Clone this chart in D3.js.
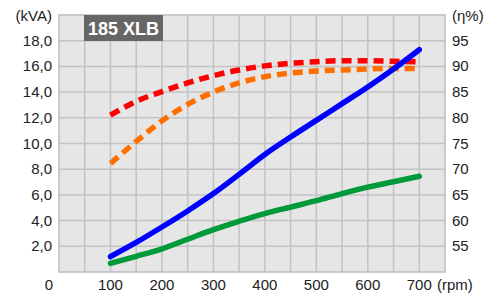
<!DOCTYPE html>
<html>
<head>
<meta charset="utf-8">
<script src="https://cdn.jsdelivr.net/npm/d3@7"></script>
<style>
  body { margin: 0; background: #fff; }
  text { font-family: "Liberation Sans", Arial, sans-serif; }
</style>
</head>
<body>
<div id="chart"></div>
<script>
// data
var rpm = [100, 150, 200, 250, 300, 350, 400, 450, 500, 550, 600, 650, 700];
var kva = [1.2, 2.3, 3.5, 4.75, 6.1, 7.6, 9.15, 10.5, 11.8, 13.1, 14.4, 15.8, 17.3];
var kw = [0.67, 1.22, 1.8, 2.55, 3.3, 3.95, 4.55, 5.05, 5.55, 6.1, 6.6, 7.02, 7.45];
var effRed = [80.5, 83.2, 85.1, 86.8, 88.2, 89.3, 90.1, 90.6, 90.9, 91.1, 91.1, 91.0, 90.9];
var effOrange = [71.1, 75.4, 79.4, 82.6, 85.0, 86.8, 88.0, 88.7, 89.1, 89.3, 89.5, 89.6, 89.6];
var xTicks = [0, 100, 200, 300, 400, 500, 600, 700];
var yLeftTicks = [2, 4, 6, 8, 10, 12, 14, 16, 18];
var yRightTicks = [55, 60, 65, 70, 75, 80, 85, 90, 95];
var title = "185 XLB";

var W = 494, H = 293;
var margin = {top: 15, right: 50, bottom: 21, left: 59},
    width = 445 - margin.left,
    height = 272 - margin.top;

var svg = d3.select("#chart")
  .append("svg")
    .attr("width", W)
    .attr("height", H);

var g = svg.append("g")
    .attr("transform", "translate(" + margin.left + "," + margin.top + ")");

var x = d3.scaleLinear().domain([0, 750]).range([0, width]);
var yL = d3.scaleLinear().domain([0, 20]).range([height, 0]);
var yR = d3.scaleLinear().domain([50, 100]).range([height, 0]);

// background
g.append("rect")
  .attr("width", width)
  .attr("height", height)
  .attr("fill", "#e6e6e6");

// grid
g.append("g")
  .selectAll("line")
  .data(d3.range(50, 750, 50))
  .enter()
  .append("line")
    .attr("x1", function(d) { return x(d); })
    .attr("x2", function(d) { return x(d); })
    .attr("y1", 0)
    .attr("y2", height)
    .attr("stroke", "#c3c3c3")
    .attr("stroke-width", 1.5);

g.append("g")
  .selectAll("line")
  .data(d3.range(2, 20, 2))
  .enter()
  .append("line")
    .attr("x1", 0)
    .attr("x2", width)
    .attr("y1", function(d) { return yL(d); })
    .attr("y2", function(d) { return yL(d); })
    .attr("stroke", "#c3c3c3")
    .attr("stroke-width", 1.5);

g.append("rect")
  .attr("width", width)
  .attr("height", height)
  .attr("fill", "none")
  .attr("stroke", "#bdbdbd")
  .attr("stroke-width", 1.5);

// title box
g.append("rect")
  .attr("x", 25)
  .attr("y", 0)
  .attr("width", 79)
  .attr("height", 26)
  .attr("fill", "#666666");
g.append("text")
  .attr("x", 64.5)
  .attr("y", 20)
  .attr("text-anchor", "middle")
  .attr("fill", "#fff")
  .style("font-size", "18px")
  .style("font-weight", "bold")
  .text(title);

// lines
function makeLine(ys, yScale) {
  return d3.line()
    .x(function(d, i) { return x(rpm[i]); })
    .y(function(d) { return yScale(d); })
    .curve(d3.curveMonotoneX)(ys);
}

var series = [
  {vals: effOrange, scale: yR, color: "#ff6f00", dash: "10,6"},
  {vals: effRed, scale: yR, color: "#ff0000", dash: "10,6"},
  {vals: kw, scale: yL, color: "#009a3a", dash: null},
  {vals: kva, scale: yL, color: "#0000ff", dash: null}
];

series.forEach(function(s) {
  g.append("path")
    .attr("d", makeLine(s.vals, s.scale))
    .attr("fill", "none")
    .attr("stroke", s.color)
    .attr("stroke-width", 5.5)
    .attr("stroke-linecap", s.dash ? "butt" : "round")
    .attr("stroke-dasharray", s.dash);
});

// axis labels
var fs = "15px";
g.append("g")
  .selectAll("text")
  .data(yLeftTicks)
  .enter()
  .append("text")
    .attr("x", -7)
    .attr("y", function(d) { return yL(d) + 5; })
    .attr("text-anchor", "end")
    .style("font-size", fs)
    .attr("fill", "#222")
    .text(function(d) { return d3.format(".1f")(d).replace(".", ","); });

g.append("g")
  .selectAll("text")
  .data(yRightTicks)
  .enter()
  .append("text")
    .attr("x", width + 7)
    .attr("y", function(d) { return yR(d) + 5; })
    .attr("text-anchor", "start")
    .style("font-size", fs)
    .attr("fill", "#222")
    .text(function(d) { return d; });

g.append("g")
  .selectAll("text")
  .data(xTicks)
  .enter()
  .append("text")
    .attr("x", function(d) { return d === 0 ? -10 : x(d); })
    .attr("y", height + 18)
    .attr("text-anchor", "middle")
    .style("font-size", fs)
    .attr("fill", "#222")
    .text(function(d) { return d; });

svg.append("text")
  .attr("x", 52)
  .attr("y", 21)
  .attr("text-anchor", "end")
  .style("font-size", fs)
  .attr("fill", "#222")
  .text("(kVA)");

svg.append("text")
  .attr("x", 452)
  .attr("y", 21)
  .style("font-size", fs)
  .attr("fill", "#222")
  .text("(η%)");

svg.append("text")
  .attr("x", 437)
  .attr("y", height + margin.top + 18)
  .style("font-size", fs)
  .attr("fill", "#222")
  .text("(rpm)");
</script>
</body>
</html>
